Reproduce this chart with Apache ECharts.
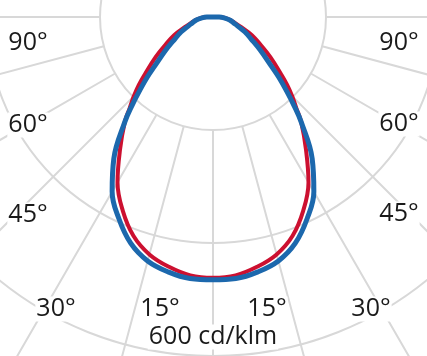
<!DOCTYPE html>
<html><head><meta charset="utf-8">
<script src="https://cdn.jsdelivr.net/npm/echarts@6/dist/echarts.min.js"></script>
<style>html,body{margin:0;padding:0;background:#fff}#c{width:427px;height:356px}</style>
</head><body><div id="c"></div>
<script>
// gamma angles (degrees from downward vertical), symmetric distribution
const gammaAngles = [0,5,10,15,20,25,30,35,40,42.5,45,47.5,50,55,60,65,70,75,80,85,90];
// luminous intensity, cd/klm
const blueValues = [465,464.5,458,447,426,394,357,306,243,212,183,158,134,102,78,62,46,37,30,21,11];
const redValues  = [461.5,459,449,435,412,378,338,287,243,218,198,178,157,124,96,76,54,40,31,21,11];
// grid rings (cd/klm)
const ringMin = 200, ringMax = 800, ringStep = 200;
// angle labels
const angleLabelTexts = ['90°','60°','45°','30°','15°'];
const unitLabel = '600 cd/klm';

// layout (pixel positions of labels)
const leftLabelPos = [[28,43],[28,125],[28,215],[56,309],[160,309]];
const rightLabelPos = [[399,43],[399,124],[399,214],[371,309],[267,309]];
const unitPos = [213,337];

function buildCurve(vals){
  const pts = [[0,180]];
  for (let i = gammaAngles.length-1; i >= 1; i--) pts.push([vals[i], 360 - gammaAngles[i]]);
  for (let i = 0; i < gammaAngles.length; i++) pts.push([vals[i], gammaAngles[i]]);
  pts.push([0,180]);
  return pts;
}

const gridStyle = {color:'#d8d8d8', width:2};
const center = [213,17];
const textStyleBase = {fontFamily:'Open Sans', fontSize:25, fill:'#1a1a1a', align:'center', verticalAlign:'middle',
  backgroundColor:'#fff', padding:[0,1]};
const graphics = [];
angleLabelTexts.forEach((t,i)=>{
  graphics.push({type:'text', z:100, x:leftLabelPos[i][0], y:leftLabelPos[i][1], style:Object.assign({text:t}, textStyleBase)});
  graphics.push({type:'text', z:100, x:rightLabelPos[i][0], y:rightLabelPos[i][1], style:Object.assign({text:t}, textStyleBase)});
});
graphics.push({type:'text', z:100, x:unitPos[0], y:unitPos[1], style:Object.assign({text:unitLabel}, textStyleBase)});

const chart = echarts.init(document.getElementById('c'), null, {renderer:'canvas'});
chart.setOption({
  animation:false,
  backgroundColor:'#fff',
  polar:[{center:center, radius:[113,452]},{center:center, radius:452}],
  radiusAxis:[
    {polarIndex:0, type:'value', min:ringMin, max:ringMax, interval:ringStep,
     axisLine:{show:false}, axisTick:{show:false}, axisLabel:{show:false},
     splitLine:{show:true, lineStyle:gridStyle}},
    {polarIndex:1, type:'value', min:0, max:ringMax, show:false,
     axisLine:{show:false}, axisTick:{show:false}, axisLabel:{show:false}, splitLine:{show:false}}
  ],
  angleAxis:[
    {polarIndex:0, type:'value', min:0, max:360, interval:15, startAngle:270, clockwise:false,
     axisLine:{show:false}, axisTick:{show:false}, axisLabel:{show:false},
     splitLine:{show:true, lineStyle:gridStyle}},
    {polarIndex:1, type:'value', min:0, max:360, startAngle:270, clockwise:false, show:false,
     axisLine:{show:false}, axisTick:{show:false}, axisLabel:{show:false}, splitLine:{show:false}}
  ],
  graphic:graphics,
  series:[
    {type:'line', coordinateSystem:'polar', polarIndex:1, data:buildCurve(redValues), symbol:'none', smooth:0.4,
     lineStyle:{color:'#cc1030', width:4}, z:3},
    {type:'line', coordinateSystem:'polar', polarIndex:1, data:buildCurve(blueValues), symbol:'none', smooth:0.4,
     lineStyle:{color:'#1c68ad', width:5}, z:4}
  ]
});
</script></body></html>
